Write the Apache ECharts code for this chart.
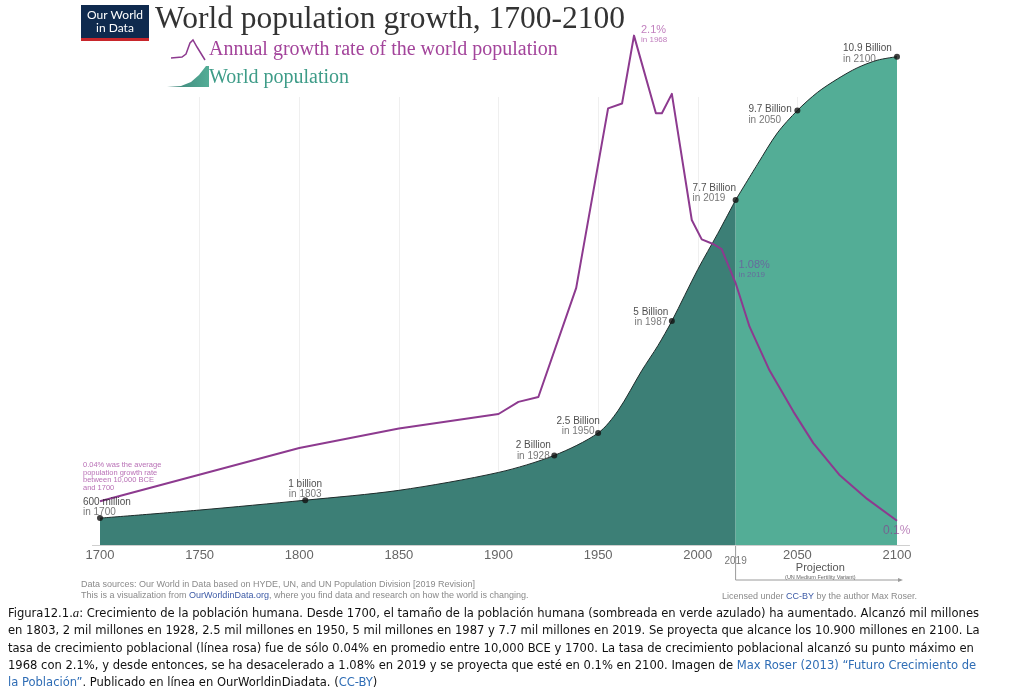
<!DOCTYPE html>
<html>
<head>
<meta charset="utf-8">
<script src="https://cdn.jsdelivr.net/npm/echarts@6/dist/echarts.min.js"></script>
<style>
  html, body { margin: 0; padding: 0; background: #fff; }
  #chart { width: 1024px; height: 691px; }
</style>
</head>
<body>
<div id="chart"></div>
<script>
// world population, billions (historical part)
const histYears = [1700, 1750, 1803, 1850, 1900, 1928, 1950, 1960, 1972, 1980, 1987, 2000, 2010, 2019]
const histPop = [0.6, 0.78, 1.0, 1.22, 1.62, 2.0, 2.5, 3.0, 3.9, 4.45, 5.0, 6.15, 6.95, 7.7]
// UN medium variant projection
const projYears = [2019, 2030, 2040, 2050, 2060, 2070, 2080, 2090, 2100]
const projPop = [7.7, 8.5, 9.2, 9.7, 10.1, 10.4, 10.65, 10.82, 10.9]
// annual growth rate, %
const rateYears = [1700, 1800, 1850, 1900, 1910, 1920, 1939, 1955, 1962, 1968, 1979, 1982, 1987, 1997, 2002, 2008, 2012, 2019, 2026, 2036, 2048, 2058, 2071, 2085, 2100]
const rateValues = [0.18, 0.4, 0.48, 0.54, 0.59, 0.61, 1.06, 1.8, 1.82, 2.1, 1.78, 1.78, 1.86, 1.34, 1.26, 1.24, 1.22, 1.08, 0.9, 0.72, 0.55, 0.42, 0.29, 0.19, 0.1]
// labelled milestones
const mileYears = [1700, 1803, 1928, 1950, 1987, 2019, 2050, 2100]
const milePop = [0.6, 1.0, 2.0, 2.5, 5.0, 7.7, 9.7, 10.9]
const mileNames = ['600 million', '1 billion', '2 Billion', '2.5 Billion', '5 Billion', '7.7 Billion', '9.7 Billion', '10.9 Billion']
// growth rate notes
const noteYears = [1700, 1968, 2019, 2100]
const noteRates = [0.18, 2.1, 1.08, 0.1]

const popMax = 10
const rateMax = 1.847
const sans = 'Liberation Sans, Arial, sans-serif'
const serif = 'Liberation Serif, Times New Roman, serif'
const purple = '#8d3a8f'

// label placement of each milestone, relative to its dot
const mileLayout = [
  { align: 'left', offset: [-17, -11] },
  { align: 'center', offset: [0, -11] },
  { align: 'center', offset: [-21, -5] },
  { align: 'center', offset: [-20, -7] },
  { align: 'center', offset: [-21, -4] },
  { align: 'left', offset: [-43, -7] },
  { align: 'left', offset: [-49, 4] },
  { align: 'left', offset: [-54, -3] }
]

const chart = echarts.init(document.getElementById('chart'))

function mileRich(align) {
  return {
    a: { fontFamily: sans, fontSize: 10, color: '#222', lineHeight: 11, align: align },
    b: { fontFamily: sans, fontSize: 10, color: '#555', lineHeight: 10, align: align }
  }
}

const noteLabels = [
  {
    align: 'left', offset: [-17, -25],
    formatter: '0.04% was the average\npopulation growth rate\nbetween 10,000 BCE\nand 1700',
    fontFamily: sans, fontSize: 7.5, lineHeight: 7.7, color: '#a64ba3'
  },
  {
    align: 'left', offset: [7, -1],
    formatter: '{a|2.1%}\n{b|in 1968}',
    rich: {
      a: { fontFamily: sans, fontSize: 11, color: '#b25fae', lineHeight: 11, align: 'left' },
      b: { fontFamily: sans, fontSize: 8, color: '#b25fae', lineHeight: 9, align: 'left' }
    }
  },
  {
    align: 'left', offset: [3, -14],
    formatter: '{a|1.08%}\n{b|in 2019}',
    rich: {
      a: { fontFamily: sans, fontSize: 11, color: '#6b5a9f', lineHeight: 11, align: 'left' },
      b: { fontFamily: sans, fontSize: 8, color: '#6b5a9f', lineHeight: 9, align: 'left' }
    }
  },
  {
    align: 'left', offset: [-14, 10],
    formatter: '0.1%',
    fontFamily: sans, fontSize: 12, color: 'rgba(142,50,142,0.75)'
  }
]

const captionLines = [
  '{t|Figura12.1.}{i|a}{t|: Crecimiento de la población humana. Desde 1700, el tamaño de la población humana (sombreada en verde azulado) ha aumentado. Alcanzó mil millones}',
  '{t|en 1803, 2 mil millones en 1928, 2.5 mil millones en 1950, 5 mil millones en 1987 y 7.7 mil millones en 2019. Se proyecta que alcance los 10.900 millones en 2100. La}',
  '{t|tasa de crecimiento poblacional (línea rosa) fue de sólo 0.04% en promedio entre 10,000 BCE y 1700. La tasa de crecimiento poblacional alcanzó su punto máximo en}',
  '{t|1968 con 2.1%, y desde entonces, se ha desacelerado a 1.08% en 2019 y se proyecta que esté en 0.1% en 2100. Imagen de }{l|Max Roser (2013) “Futuro Crecimiento de}',
  '{l|la Población”}{t|. Publicado en línea en OurWorldinDiadata. (}{l|CC-BY}{t|)}'
]

const capFont = 'DejaVu Sans Condensed, DejaVu Sans, sans-serif'

chart.setOption({
  animation: false,
  grid: { left: 100, right: 127, top: 97, bottom: 146 },
  xAxis: {
    type: 'value',
    min: 1700,
    max: 2100,
    interval: 50,
    splitLine: { show: true, showMinLine: false, showMaxLine: false, lineStyle: { color: '#efefef', width: 1 } },
    axisTick: { show: false },
    axisLine: { show: false },
    axisLabel: {
      margin: 4,
      fontFamily: sans,
      fontSize: 13,
      color: '#666',
      formatter: v => String(v)
    }
  },
  yAxis: [
    { type: 'value', min: 0, max: popMax, show: false },
    { type: 'value', min: 0, max: rateMax, show: false }
  ],
  series: [
    {
      name: 'World population',
      type: 'line',
      data: histYears.map((y, i) => [y, histPop[i]]),
      smooth: 0.3,
      symbol: 'none',
      clip: false,
      z: 2,
      lineStyle: { color: '#1d2b2a', width: 1 },
      areaStyle: { color: '#3c7f76', opacity: 1 }
    },
    {
      name: 'Projection',
      type: 'line',
      data: projYears.map((y, i) => [y, projPop[i]]),
      smooth: 0.3,
      symbol: 'none',
      clip: false,
      z: 2,
      lineStyle: { color: '#1d2b2a', width: 1 },
      areaStyle: { color: '#53ad96', opacity: 1 }
    },
    {
      name: 'Annual growth rate',
      type: 'line',
      yAxisIndex: 1,
      data: rateYears.map((y, i) => [y, rateValues[i]]),
      symbol: 'none',
      clip: false,
      z: 4,
      lineStyle: { color: purple, width: 2, join: 'round' }
    },
    {
      type: 'scatter',
      data: mileYears.map((y, i) => ({
        value: [y, milePop[i]],
        label: {
          show: true,
          position: 'inside',
          align: mileLayout[i].align,
          verticalAlign: 'middle',
          offset: mileLayout[i].offset,
          formatter: '{a|' + mileNames[i] + '}\n{b|in ' + y + '}',
          rich: mileRich(mileLayout[i].align)
        }
      })),
      symbolSize: 6,
      itemStyle: { color: '#111' },
      clip: false,
      z: 5
    },
    {
      type: 'scatter',
      yAxisIndex: 1,
      symbolSize: 0,
      clip: false,
      z: 5,
      data: noteYears.map((y, i) => ({
        value: [y, noteRates[i]],
        label: Object.assign({ show: true, position: 'inside', verticalAlign: 'middle' }, noteLabels[i])
      }))
    }
  ],
  graphic: [
    // logo
    { id: 'logoBox', type: 'rect', left: 81, top: 5, shape: { width: 68, height: 36 }, style: { fill: '#0f2a4e' } },
    { id: 'logoBar', type: 'rect', left: 81, top: 38, shape: { width: 68, height: 3 }, style: { fill: '#c8262b' } },
    { id: 'logo1', type: 'text', x: 115, y: 15, style: { text: 'Our World', fill: '#fff', font: '12px Lato, sans-serif', align: 'center', verticalAlign: 'middle' } },
    { id: 'logo2', type: 'text', x: 115, y: 28, style: { text: 'in Data', fill: '#fff', font: '12px Lato, sans-serif', align: 'center', verticalAlign: 'middle' } },
    // title
    { id: 'title', type: 'text', x: 155, y: 20, style: { text: 'World population growth, 1700-2100', fill: '#333', font: '31.5px ' + serif, verticalAlign: 'middle' } },
    // legend
    {
      id: 'legIcon1',
      type: 'polyline',
      shape: { points: [[171, 58], [182, 57], [186, 54], [190, 43], [193, 40], [197, 47], [205, 60]] },
      style: { stroke: purple, lineWidth: 1.5, fill: null }
    },
    { id: 'legText1', type: 'text', x: 209, y: 50, style: { text: 'Annual growth rate of the world population', fill: '#a3449b', font: '20px ' + serif, verticalAlign: 'middle' } },
    {
      id: 'legIcon2',
      type: 'polygon',
      shape: { points: [[167, 87], [181, 86], [191, 82], [199, 75], [206, 66], [209, 66], [209, 87]] },
      style: {
        fill: new echarts.graphic.LinearGradient(0, 0, 1, 0, [
          { offset: 0, color: '#3c7f76' }, { offset: 1, color: '#53ad96' }
        ])
      }
    },
    { id: 'legText2', type: 'text', x: 209, y: 78, style: { text: 'World population', fill: '#3e9c88', font: '20px ' + serif, verticalAlign: 'middle' } },
    // footer
    { id: 'src', type: 'text', x: 81, y: 585, style: { text: 'Data sources: Our World in Data based on HYDE, UN, and UN Population Division [2019 Revision]', fill: '#8a8a8a', font: '9px ' + sans, verticalAlign: 'middle' } },
    {
      id: 'viz', type: 'text', x: 81, y: 596,
      style: {
        text: '{g|This is a visualization from }{u|OurWorldinData.org}{g|, where you find data and research on how the world is changing.}',
        verticalAlign: 'middle',
        rich: {
          g: { fill: '#8a8a8a', font: '9px ' + sans },
          u: { fill: '#3c5aa6', font: '9px ' + sans }
        }
      }
    },
    {
      id: 'lic', type: 'text', x: 917, y: 597,
      style: {
        text: '{g|Licensed under }{u|CC-BY}{g| by the author Max Roser.}',
        align: 'right',
        verticalAlign: 'middle',
        rich: {
          g: { fill: '#8a8a8a', font: '9px ' + sans },
          u: { fill: '#3c5aa6', font: '9px ' + sans }
        }
      }
    },
    // caption
    {
      id: 'caption', type: 'text', x: 8, y: 605,
      style: {
        text: captionLines.join('\n'),
        rich: {
          t: { fill: '#111', font: '12.85px ' + capFont, lineHeight: 17.3 },
          i: { fill: '#111', font: 'italic 12.85px ' + serif, lineHeight: 17.3 },
          l: { fill: '#2f6db5', font: '12.85px ' + capFont, lineHeight: 17.3 }
        }
      }
    }
  ]
})

// axis line and projection marker, placed from data coordinates
const pStart = chart.convertToPixel({ gridIndex: 0 }, [1696, 0])
const pEnd = chart.convertToPixel({ gridIndex: 0 }, [2106.5, 0])
const p2019 = chart.convertToPixel({ gridIndex: 0 }, [2019, 0])
const p2100 = chart.convertToPixel({ gridIndex: 0 }, [2100, 0])
const arrowY = p2019[1] + 35
const midX = (p2019[0] + p2100[0] + 8) / 2
chart.setOption({
  graphic: [
    { id: 'axisLine', type: 'line', z: 10, shape: { x1: pStart[0], y1: pStart[1] + 0.5, x2: pEnd[0], y2: pEnd[1] + 0.5 }, style: { stroke: '#cfcfcf', lineWidth: 1 } },
    { id: 'sep', type: 'line', shape: { x1: p2019[0], y1: p2019[1], x2: p2019[0], y2: arrowY }, style: { stroke: '#9a9a9a', lineWidth: 1 } },
    { id: 'arrow', type: 'line', shape: { x1: p2019[0], y1: arrowY, x2: p2100[0] + 3, y2: arrowY }, style: { stroke: '#9a9a9a', lineWidth: 1 } },
    { id: 'arrowHead', type: 'polygon', shape: { points: [[p2100[0] + 6, arrowY], [p2100[0] + 1, arrowY - 2], [p2100[0] + 1, arrowY + 2]] }, style: { fill: '#9a9a9a' } },
    { id: 'lab2019', type: 'text', x: p2019[0], y: p2019[1] + 16, style: { text: '2019', fill: '#777', font: '10px ' + sans, align: 'center', verticalAlign: 'middle' } },
    { id: 'projText', type: 'text', x: midX, y: p2019[1] + 23, style: { text: 'Projection', fill: '#555', font: '11px ' + sans, align: 'center', verticalAlign: 'middle' } },
    { id: 'projSub', type: 'text', x: midX, y: p2019[1] + 32, style: { text: '(UN Medium Fertility Variant)', fill: '#666', font: '5.5px ' + sans, align: 'center', verticalAlign: 'middle' } }
  ]
})
</script>
</body>
</html>
